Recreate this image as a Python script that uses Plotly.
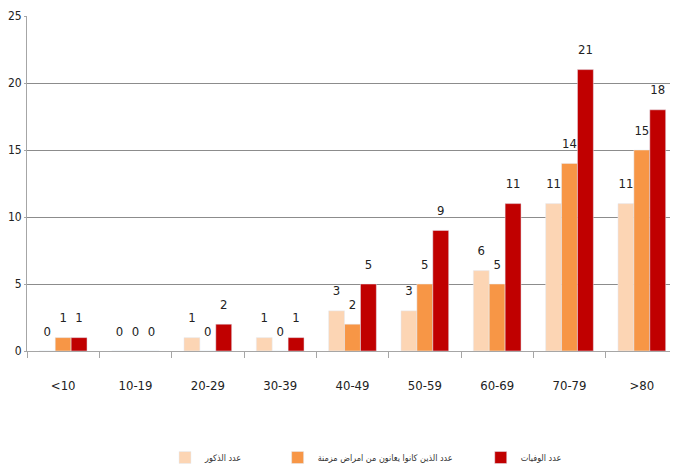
import plotly.graph_objects as go

categories = ["<10", "10-19", "20-29", "30-39", "40-49", "50-59", "60-69", "70-79", ">80"]
males = [0, 0, 1, 1, 3, 3, 6, 11, 11]
chronic = [1, 0, 0, 0, 2, 5, 5, 14, 15]
deaths = [1, 0, 2, 1, 5, 9, 11, 21, 18]
series_names = ["عدد الذكور", "عدد الذين كانوا يعانون من امراض مزمنة", "عدد الوفيات"]
colors = ["#FCD5B4", "#F79646", "#C00000"]

font_fam = "DejaVu Sans Condensed, Liberation Sans Narrow, sans-serif"

fig = go.Figure()
legends = ["legend", "legend2", "legend3"]
for vals, name, col, lg in zip([males, chronic, deaths], series_names, colors, legends):
    fig.add_trace(go.Bar(
        x=categories, y=vals, name=name, marker_color=col, legend=lg,
        hoverinfo="skip",
    ))
# value labels, floated a little above each bar
for vals, name in zip([males, chronic, deaths], series_names):
    fig.add_trace(go.Scatter(
        x=categories, y=vals, name=name, mode="markers+text",
        marker=dict(size=18, opacity=0), showlegend=False,
        text=[str(v) for v in vals], textposition="top center",
        textfont=dict(family=font_fam, size=13, color="#222"),
        cliponaxis=False, hoverinfo="skip",
    ))

legend_style = dict(orientation="h", yanchor="middle", y=-0.318, xanchor="left",
                    font=dict(family="DejaVu Sans Condensed, DejaVu Sans, sans-serif", size=9, color="#333"),
                    bgcolor="rgba(0,0,0,0)", itemwidth=30)

# page body has an 8px default margin, so the figure is sized to fit the window
fig.update_layout(
    width=670, height=456,
    margin=dict(l=19, r=0, t=8, b=113, autoexpand=False),
    paper_bgcolor="white", plot_bgcolor="white",
    barmode="group", bargap=0.34, bargroupgap=0,
    scattermode="group", scattergap=0.34,
    showlegend=True,
    legend=dict(legend_style, x=0.212),
    legend2=dict(legend_style, x=0.385),
    legend3=dict(legend_style, x=0.697),
    font=dict(family=font_fam, size=13, color="#222"),
    xaxis=dict(
        showline=True, linecolor="#A6A6A6", linewidth=1,
        ticks="outside", tickson="boundaries", ticklen=6, tickcolor="#A6A6A6",
        tickfont=dict(family=font_fam, size=13, color="#222"),
        ticklabelstandoff=22, showgrid=False, automargin=False,
    ),
    yaxis=dict(
        range=[0, 25], dtick=5, showline=True, linecolor="#A6A6A6", linewidth=1,
        showgrid=True, gridcolor="#8C8C8C", gridwidth=1,
        ticks="outside", ticklen=2, tickcolor="#A6A6A6",
        tickfont=dict(family=font_fam, size=12, color="#222"),
        zeroline=False, automargin=False,
    ),
)

fig.write_html("out.html")
